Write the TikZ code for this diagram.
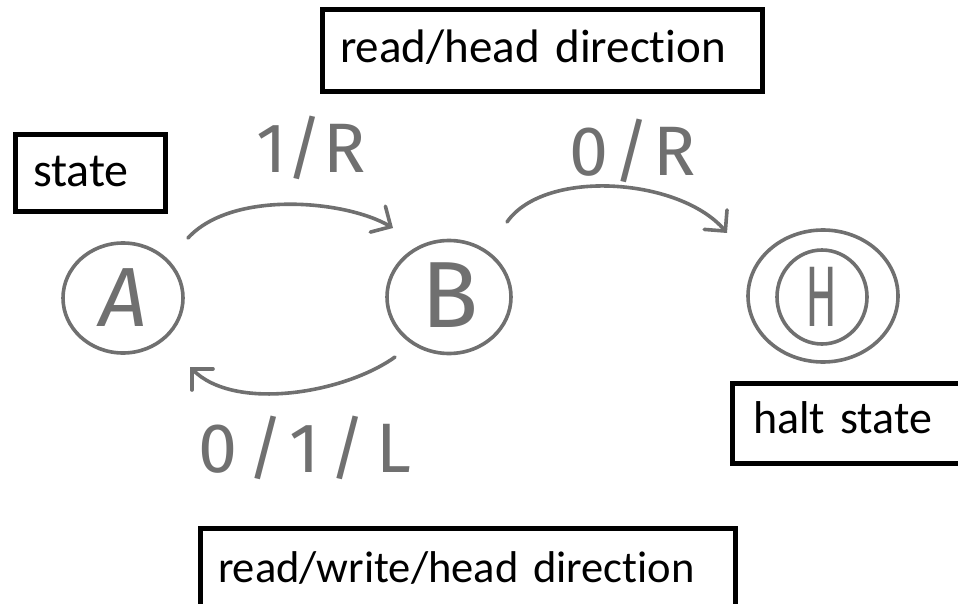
\documentclass[tikz,border=0pt]{standalone}
\usepackage{fontspec}
\setmainfont{Carlito}[Ligatures=NoCommon]
\newfontfamily\handfont{Fira Sans}
\usetikzlibrary{arrows.meta,shapes.geometric,calc}
\definecolor{pencil}{RGB}{112,112,112}
\tikzset{
  labelbox/.style={draw=black, line width=5pt, rectangle, outer sep=0pt,
    inner ysep=0pt, align=left, anchor=base west, text=black},
  boxfont/.style={font=\fontsize{#1}{#1}\selectfont},
  statenode/.style={draw=pencil, line width=3.6pt, ellipse, inner sep=0pt,
    outer sep=0pt, text=pencil},
  conn/.style={draw=pencil, line width=3.6pt, line cap=round,
    -{Straight Barb[length=15pt,width=30pt,line cap=round]}},
  handlabel/.style={text=pencil, inner sep=0pt, font=\handfont\fontsize{70}{72}\selectfont},
  letter/.style={text=pencil, inner sep=0pt, font=\handfont\fontsize{#1}{#1}\selectfont}
}
\begin{document}
\begin{tikzpicture}[x=1pt,y=-1pt]
  \useasboundingbox (0,0) rectangle (958,604);
  \clip (0,0) rectangle (958,604);

  % states
  \node[statenode, minimum width=120pt, minimum height=110pt] (A) at (123,298) {};
  \node[statenode, minimum width=124pt, minimum height=113pt] (B) at (449,297) {};
  \node[statenode, minimum width=150pt, minimum height=132pt] (H) at (823,296) {};
  \node[statenode, minimum width=90pt, minimum height=94pt] (Hin) at (822,297) {};

  % handwritten state letters
  \node[letter=84] (Atxt) at (A) {\itshape A};
  \node[letter=94] (Btxt) at ($(B)+(1,-2)$) {B};
  \node[letter=86] (Htxt) at (Hin) {\scalebox{0.55}[1]{H}};

  % transitions
  \draw[conn] ($(A)+(65,-60)$) .. controls ($(A)+(109,-108)$) and ($(B)+(-104,-97)$) .. ($(B)+(-56,-69)$);
  \draw[conn] ($(B)+(58,-75)$) .. controls ($(B)+(96,-129)$) and ($(H)+(-143,-118)$) .. ($(H)+(-96,-63)$);
  \draw[conn] ($(B)+(-54,60)$) .. controls ($(B)+(-104,96)$) and ($(A)+(112,114)$) .. ($(A)+(67,69)$);

  % transition labels
  \node[handlabel] (l1) at (311,148) {1/R};
  \node[handlabel] (l2) at (633,151) {\addfontfeature{LetterSpace=6}0/R};
  \node[handlabel] (l3) at (305,448) {\addfontfeature{LetterSpace=14}0/1/L};

  % annotation boxes
  \node[labelbox, boxfont=47, inner xsep=18pt, text width=404pt,
        text height=53pt, text depth=29pt] (headbox) at (322,63) {\mbox{read/head direction}};
  \node[labelbox, boxfont=48, inner xsep=18pt, text width=114pt,
        text height=52pt, text depth=25pt] (statebox) at (15,187) {\mbox{state}};
  \node[labelbox, boxfont=46, inner xsep=21pt, text width=198pt,
        text height=50pt, text depth=30pt] (haltbox) at (732,433) {\mbox{halt state}};
  \node[labelbox, boxfont=44.5, inner xsep=18pt, text width=499pt,
        text height=54pt, text depth=24pt] (rwbox) at (200,582) {\mbox{read/write/head direction}};
\end{tikzpicture}
\end{document}
